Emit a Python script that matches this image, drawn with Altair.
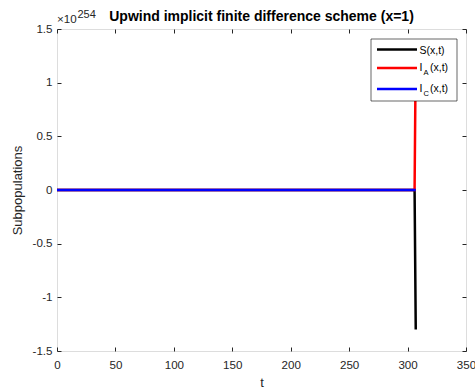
import altair as alt
import pandas as pd

# ---- data (values in units of 1e254) ----
t_vals = [0, 306, 307]
S_vals = [0, 0, -1.3]
IA_vals = [0, 0, 1.3]
IC_vals = [0, 0, 0]

x_ticks = [0, 50, 100, 150, 200, 250, 300, 350]
y_ticks = [-1.5, -1, -0.5, 0, 0.5, 1, 1.5]

title_text = "Upwind implicit finite difference scheme (x=1)"
exp_base = "\u00d710"
exp_power = "254"

df = pd.DataFrame({"t": t_vals, "S": S_vals, "IA": IA_vals, "IC": IC_vals})

FONT = "Liberation Sans"
AX = "#262626"
W, H = 409, 322

sx = alt.Scale(domain=[0, 350], nice=False, zero=False)
sy = alt.Scale(domain=[-1.5, 1.5], nice=False, zero=False)

common_axis = dict(domain=False, offset=-4, tickSize=4, tickColor=AX, tickWidth=1,
                   grid=False, labelFont=FONT, labelFontSize=11.6, labelColor=AX,
                   labelFlush=False, labelOverlap=False, labelBound=False,
                   titleFont=FONT, titleFontSize=13, titleColor=AX, titleFontWeight="normal")

x_bottom = alt.Axis(orient="bottom", values=x_ticks, labelPadding=8, title="t",
                    titlePadding=6, **common_axis)
y_left = alt.Axis(orient="left", values=y_ticks, labelPadding=5, title="Subpopulations",
                  labelExpr="'' + datum.value", titlePadding=8, **common_axis)
x_top = alt.Axis(orient="top", values=x_ticks, labels=False, title=None, **common_axis)
y_right = alt.Axis(orient="right", values=y_ticks, labels=False, title=None, **common_axis)

base = alt.Chart(df)

line_S = base.mark_line(color="black", strokeWidth=2.5, clip=True).encode(
    x=alt.X("t:Q", scale=sx, axis=x_bottom),
    y=alt.Y("S:Q", scale=sy, axis=y_left),
)
line_IA = base.mark_line(color="#ff0000", strokeWidth=2.5, clip=True).encode(
    x=alt.X("t:Q", scale=sx, axis=x_top),
    y=alt.Y("IA:Q", scale=sy, axis=y_right),
)
line_IC = base.mark_line(color="#0000ff", strokeWidth=2.5, clip=True).encode(
    x=alt.X("t:Q", scale=sx, axis=None),
    y=alt.Y("IC:Q", scale=sy, axis=None),
)

# ---- MATLAB-style legend box ----
one = pd.DataFrame({"a": [0]})
leg_box = alt.Chart(one).mark_rect(fill="white", stroke="black", strokeWidth=0.6).encode(
    x=alt.value(314), x2=alt.value(400), y=alt.value(10), y2=alt.value(72))

def leg_line(color, yv):
    return alt.Chart(one).mark_rule(color=color, strokeWidth=2.5).encode(
        x=alt.value(320), x2=alt.value(360), y=alt.value(yv), y2=alt.value(yv))

def leg_text(txt, xv, yv, size=10.5):
    return alt.Chart(one).mark_text(text=txt, font=FONT, fontSize=size, color="black",
                                    align="left", baseline="middle").encode(
        x=alt.value(xv), y=alt.value(yv))

legend_layers = [
    leg_box,
    leg_line("black", 20.5), leg_line("#ff0000", 39), leg_line("#0000ff", 60),
    leg_text("S(x,t)", 362.5, 21.5),
    leg_text("I", 362.5, 38.5), leg_text("A", 366.5, 44, 7.5), leg_text("(x,t)", 373, 38.5),
    leg_text("I", 362.5, 59.5), leg_text("C", 366.5, 65, 7.5), leg_text("(x,t)", 373, 59.5),
]

# ---- title and exponent label (text marks placed above the plot area) ----
title_layer = alt.Chart(one).mark_text(text=title_text, font=FONT, fontSize=14,
                                       fontWeight="bold", color="black", align="center",
                                       baseline="alphabetic").encode(
    x=alt.value(W / 2), y=alt.value(-8))

exp_layers = [
    alt.Chart(one).mark_text(text=exp_base, font=FONT, fontSize=11.6, color=AX,
                             align="left", baseline="alphabetic").encode(
        x=alt.value(0), y=alt.value(-6)),
    alt.Chart(one).mark_text(text=exp_power, font=FONT, fontSize=11, color=AX,
                             align="left", baseline="alphabetic").encode(
        x=alt.value(20.5), y=alt.value(-11.5)),
]

chart = alt.layer(line_S, line_IA, line_IC, *legend_layers, title_layer, *exp_layers).resolve_axis(
    x="independent", y="independent"
).properties(
    width=W, height=H,
    padding={"left": 57, "top": 29, "right": 9, "bottom": 40},
    autosize=alt.AutoSizeParams(type="none"),
).configure_view(stroke=AX, strokeWidth=1).configure(background="white")

chart.save("out.html", embed_options={"renderer": "svg", "actions": False})
